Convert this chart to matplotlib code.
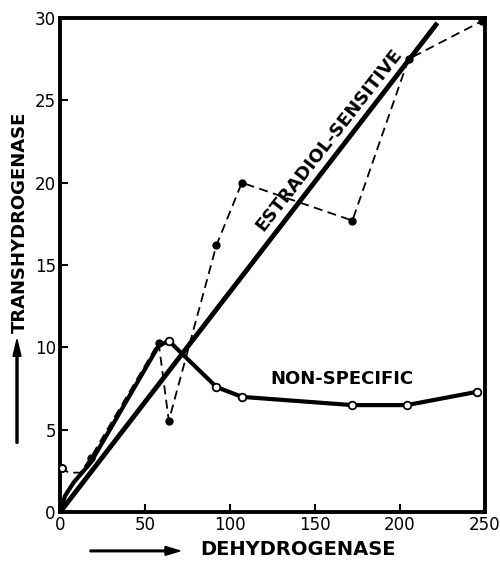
import numpy as np
import matplotlib
matplotlib.use("Agg")
import matplotlib.pyplot as plt

# dashed series (filled dots)
dash_x = [0, 0, 1, 5, 12, 18, 58, 64, 92, 107, 172, 205, 248]
dash_y = [0, 1.5, 2.7, 2.4, 2.4, 3.3, 10.3, 5.55, 16.2, 20.0, 17.7, 27.5, 29.8]
dash_marker = [False, False, True, False, False, True, True, True, True, True, True, True, True]

# non-specific series (open circles)
ns_x = [0, 3, 8, 18, 58, 64, 92, 107, 172, 204, 245]
ns_y = [0, 1.0, 1.8, 3.0, 10.1, 10.4, 7.6, 7.0, 6.5, 6.5, 7.3]
ns_open = [False, False, False, False, False, True, True, True, True, True, True]

# estradiol-sensitive straight line
es_x = [0, 222]
es_y = [0, 29.7]

xticks = [0, 50, 100, 150, 200, 250]
yticks = [0, 5, 10, 15, 20, 25, 30]

plt.rcParams['font.family'] = ['DejaVu Sans']
fig = plt.figure(figsize=(5, 5.61), dpi=100)
ax = fig.add_axes([0.12, 0.087, 0.85, 0.881])

ax.plot(es_x, es_y, color='black', lw=3.5, solid_capstyle='butt', zorder=3)

ax.plot(ns_x, ns_y, color='black', lw=3, zorder=3)
ox = [x for x, m in zip(ns_x, ns_open) if m]
oy = [y for y, m in zip(ns_y, ns_open) if m]
ax.plot(ox, oy, 'o', ms=5.5, mfc='white', mec='black', mew=1.3, zorder=5)

ax.plot(dash_x, dash_y, color='black', lw=1.3, dashes=(5, 3), zorder=4)
fx = [x for x, m in zip(dash_x, dash_marker) if m]
fy = [y for y, m in zip(dash_y, dash_marker) if m]
ax.plot(fx, fy, 'o', ms=5, color='black', zorder=6)
ax.plot([1], [2.7], 'o', ms=5, mfc='white', mec='black', mew=1.3, zorder=7)

ax.set_xlim(0, 250)
ax.set_ylim(0, 30)
ax.set_xticks(xticks)
ax.set_yticks(yticks)
ax.set_xticklabels([str(t) for t in xticks], fontsize=12)
ax.set_yticklabels([str(t) for t in yticks], fontsize=12)
ax.tick_params(direction='in', length=6, width=1.5, top=False, right=False, pad=3)
for s in ax.spines.values():
    s.set_linewidth(2.8)

ax.text(158, 22.6, 'ESTRADIOL-SENSITIVE', rotation=52, ha='center', va='center',
        fontsize=13, fontweight='bold')
ax.text(166, 8.1, 'NON-SPECIFIC', ha='center', va='center', fontsize=13, fontweight='bold')

fig.text(0.595, 0.02, 'DEHYDROGENASE', ha='center', va='center', fontsize=14, fontweight='bold')
fig.text(0.04, 0.604, 'TRANSHYDROGENASE', rotation=90, ha='center', va='center',
         fontsize=13, fontweight='bold')
fig.patches.append(matplotlib.patches.FancyArrow(0.18, 0.018, 0.18, 0, width=0.003,
                   head_width=0.016, head_length=0.03, length_includes_head=True,
                   color='black', transform=fig.transFigure, figure=fig))
fig.patches.append(matplotlib.patches.FancyArrow(0.034, 0.21, 0, 0.185, width=0.004,
                   head_width=0.016, head_length=0.03, length_includes_head=True,
                   color='black', transform=fig.transFigure, figure=fig))

fig.savefig('out.png', dpi=100)
